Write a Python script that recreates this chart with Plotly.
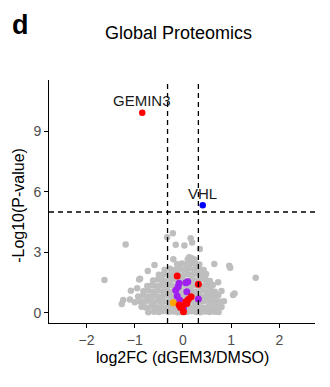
import plotly.graph_objects as go

# Background proteins (not significant), log2 fold change and -log10 p-value
grey_x = [
    -1.63, -1.19, 1.51, -0.33, -0.21, -0.15, 0.16, 0.19, 0.03, 0.35,
    0.96, 0.98, 0.65, 1.07, 1.04, 0.80, 0.73, -0.73, -0.89, -1.08,
    -1.10, -1.24, -1.27, -0.95, -0.59, -0.20, 0.13, -0.91,
    -0.72, -0.60, -0.50, -0.41, -0.30, -0.20, -0.11, -0.02, 0.08, 0.17, 0.27, 0.36, 0.46, 0.55, 0.66, 0.74,
    -0.86, -0.77, -0.66, -0.55, -0.46, -0.36, -0.25, -0.15, -0.05, 0.05, 0.14, 0.24, 0.33, 0.44, 0.53, 0.63, 0.72, 0.80,
    -1.00, -0.90, -0.80, -0.70, -0.61, -0.50, -0.41, -0.30, -0.20, -0.09, 0.01, 0.11, 0.21, 0.30, 0.40, 0.49, 0.59, 0.68, 0.77, 0.85,
    -0.93, -0.83, -0.73, -0.63, -0.53, -0.43, -0.33, -0.23, -0.13, -0.03, 0.07, 0.17, 0.27, 0.37, 0.47, 0.56, 0.65, 0.73,
    -0.82, -0.72, -0.62, -0.52, -0.42, -0.32, -0.22, -0.12, -0.02, 0.08, 0.18, 0.28, 0.38, 0.48, 0.58, 0.66,
    -0.74, -0.64, -0.54, -0.44, -0.34, -0.24, -0.14, -0.04, 0.06, 0.16, 0.26, 0.36, 0.46, 0.55, 0.62,
    -0.62, -0.52, -0.42, -0.32, -0.22, -0.12, -0.02, 0.08, 0.18, 0.28, 0.38, 0.48, 0.56,
    -0.50, -0.40, -0.30, -0.20, -0.10, 0.00, 0.10, 0.20, 0.30, 0.40, 0.48,
    -0.38, -0.27, -0.17, -0.07, 0.03, 0.13, 0.23, 0.33, 0.43,
    -0.12, -0.02, 0.08, 0.17, 0.26, 0.34,
    0.10, 0.18, 0.24,
]
grey_y = [
    1.62, 3.39, 1.74, 3.74, 3.94, 3.37, 3.69, 3.49, 3.34, 3.16,
    2.33, 2.23, 2.42, 0.96, 0.88, 1.08, 1.51, 2.07, 1.69, 1.09,
    0.66, 0.63, 0.43, 1.21, 2.37, 2.65, 2.75, 1.65,
    0.02, 0.05, 0.03, 0.08, 0.04, 0.06, 0.02, 0.05, 0.03, 0.07, 0.04, 0.02, 0.06, 0.03, 0.05, 0.04,
    0.30, 0.26, 0.31, 0.27, 0.29, 0.25, 0.32, 0.28, 0.26, 0.30, 0.27, 0.33, 0.28, 0.25, 0.30, 0.27, 0.32, 0.29,
    0.52, 0.57, 0.55, 0.60, 0.53, 0.58, 0.54, 0.56, 0.60, 0.52, 0.57, 0.55, 0.59, 0.53, 0.56, 0.60, 0.54, 0.58, 0.55, 0.57,
    0.80, 0.85, 0.79, 0.84, 0.82, 0.78, 0.86, 0.81, 0.83, 0.79, 0.84, 0.80, 0.85, 0.82, 0.78, 0.84, 0.81, 0.86,
    1.06, 1.10, 1.05, 1.12, 1.07, 1.09, 1.04, 1.11, 1.08, 1.06, 1.10, 1.05, 1.12, 1.07, 1.09, 1.04,
    1.33, 1.37, 1.32, 1.38, 1.34, 1.36, 1.31, 1.39, 1.35, 1.33, 1.38, 1.32, 1.36, 1.34, 1.37,
    1.60, 1.65, 1.62, 1.58, 1.66, 1.61, 1.63, 1.59, 1.64, 1.60, 1.66, 1.62, 1.58,
    1.88, 1.92, 1.87, 1.93, 1.90, 1.86, 1.91, 1.89, 1.94, 1.88, 1.92,
    2.13, 2.18, 2.12, 2.17, 2.15, 2.20, 2.14, 2.16, 2.12,
    2.40, 2.44, 2.41, 2.46, 2.42, 2.39,
    2.66, 2.70, 2.64,
]

# Highlighted protein groups
purple_x = [-0.08, 0.06, 0.10, -0.15, -0.10, 0.08, -0.12, -0.07, 0.32, 0.01]
purple_y = [1.46, 1.49, 1.54, 1.12, 1.29, 1.04, 0.83, 0.63, 0.68, 0.22]

orange_x = [-0.20]
orange_y = [0.50]

red_x = [-0.12, 0.32, 0.17, 0.11, 0.06, -0.01, -0.05, 0.01, 0.08, -0.08]
red_y = [1.82, 1.41, 0.79, 0.66, 0.55, 0.33, 0.26, 0.05, 0.46, 0.38]

# Labelled hits
hit_names = ["GEMIN3", "VHL"]
hit_x = [-0.845, 0.41]
hit_y = [9.93, 5.33]
hit_colors = ["#FF0000", "#0000FF"]

fc_cut = 0.32
p_cut = 5

font_family = "Liberation Sans, Arial, sans-serif"

fig = go.Figure()
fig.add_trace(go.Scatter(x=grey_x, y=grey_y, mode="markers",
                         marker=dict(size=6.5, color="#BEBEBE"), hoverinfo="skip"))
fig.add_trace(go.Scatter(x=purple_x, y=purple_y, mode="markers",
                         marker=dict(size=7, color="#A020F0")))
fig.add_trace(go.Scatter(x=orange_x, y=orange_y, mode="markers",
                         marker=dict(size=7, color="#FFA500")))
fig.add_trace(go.Scatter(x=red_x, y=red_y, mode="markers",
                         marker=dict(size=7, color="#FF0000")))
fig.add_trace(go.Scatter(x=hit_x, y=hit_y, mode="markers",
                         marker=dict(size=6.5, color=hit_colors)))

for name, hx, hy in zip(hit_names, hit_x, hit_y):
    fig.add_annotation(x=hx, y=hy, text=name, showarrow=False, yshift=12,
                       xanchor="center", yanchor="middle",
                       font=dict(size=15, color="#1a1a1a", family=font_family))

dash_line = dict(color="black", width=1.3, dash="5px,4px")
for xv in (-fc_cut, fc_cut):
    fig.add_shape(type="line", xref="x", yref="paper", x0=xv, x1=xv, y0=0, y1=1,
                  line=dash_line, layer="above")
fig.add_shape(type="line", xref="paper", yref="y", x0=0, x1=1, y0=p_cut, y1=p_cut,
              line=dash_line, layer="above")

axis_common = dict(showgrid=False, zeroline=False, showline=True, linecolor="black",
                   linewidth=1, ticks="outside", ticklen=4, tickcolor="black",
                   tickfont=dict(size=14, color="#4D4D4D", family=font_family))

fig.update_xaxes(range=[-2.78, 2.74], tickvals=[-2, -1, 0, 1, 2], **axis_common)
fig.update_yaxes(range=[-0.51, 11.55], tickvals=[0, 3, 6, 9], **axis_common)


def paper_text(x, y, text, size, angle=0):
    fig.add_annotation(x=x, y=y, xref="paper", yref="paper", text=text,
                       xanchor="center", yanchor="middle", textangle=angle,
                       showarrow=False,
                       font=dict(size=size, color="black", family=font_family))


paper_text(0.485, 1.193, "Global Proteomics", 18)
paper_text(-0.109, 1.226, "<b>d</b>", 27)
paper_text(0.5, -0.14, "log2FC (dGEM3/DMSO)", 16)
paper_text(-0.113, 0.486, "-Log10(P-value)", 16, angle=-90)

fig.update_layout(width=330, height=387, margin=dict(l=49, r=15, t=80, b=64),
                  plot_bgcolor="white", paper_bgcolor="white", showlegend=False,
                  font=dict(family=font_family))

fig.write_html("out.html")
